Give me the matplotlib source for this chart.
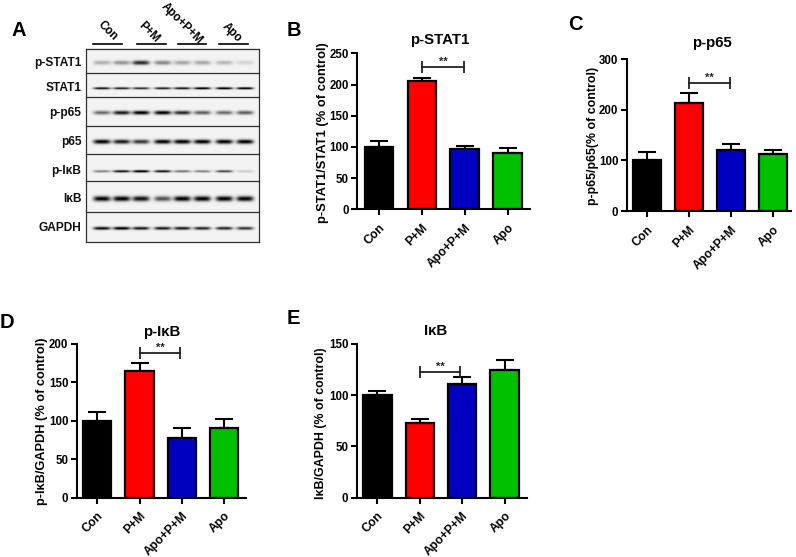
import numpy as np
import matplotlib
matplotlib.use('Agg')
import matplotlib.pyplot as plt

plt.rcParams['font.family'] = ['Liberation Sans', 'DejaVu Sans']
plt.rcParams['font.weight'] = 'bold'

W, H = 796, 557

groups = ['Con', 'P+M', 'Apo+P+M', 'Apo']
bar_colors = ['#000000', '#ff0000', '#0000c0', '#00c000']

stat1_vals = [100, 205, 97, 90]
stat1_top = [109, 211, 101, 98]
p65_vals = [100, 214, 121, 113]
p65_top = [117, 234, 133, 120]
pikb_vals = [100, 164, 78, 91]
pikb_top = [111, 175, 91, 102]
ikb_vals = [100, 73, 111, 124]
ikb_top = [104, 77, 118, 134]

# western blot: band strength per lane
blot_rows = ['p-STAT1', 'STAT1', 'p-p65', 'p65', 'p-IκB', 'IκB', 'GAPDH']
blot_bands = [
    [0.25, 0.35, 0.75, 0.40, 0.28, 0.28, 0.22, 0.12],
    [0.80, 0.75, 0.70, 0.75, 0.80, 0.90, 0.95, 0.90],
    [0.50, 0.80, 1.00, 0.90, 0.75, 0.55, 0.50, 0.55],
    [0.95, 0.80, 0.70, 0.90, 1.00, 1.00, 0.95, 1.00],
    [0.40, 0.80, 0.90, 0.80, 0.45, 0.40, 0.60, 0.15],
    [0.90, 1.00, 0.85, 0.60, 1.00, 0.95, 1.00, 1.00],
    [0.85, 0.90, 0.80, 0.80, 0.80, 0.75, 0.75, 0.70],
]
blot_sigma = [2.2, 1.2, 2.0, 2.2, 1.3, 2.6, 1.6]
blot_lane_x = [102, 121.7, 141, 162.7, 182.3, 202.3, 224.3, 245]
blot_row_y = [62.7, 88.3, 112.7, 141.7, 171.3, 198.7, 228.3]
blot_edges = [48.7, 73, 97, 125.7, 153.7, 181, 212, 242.3]
blot_left, blot_right = 86, 259.3
group_lines = [(93, 121.7), (137, 165.7), (177.7, 206), (219, 247.7)]
group_label_pos = [(108, 31), (149, 32.5), (182, 23.5), (232, 33)]


def px_axes(fig, left, right, top, bottom):
    return fig.add_axes([left / W, 1 - bottom / H, (right - left) / W, (bottom - top) / H])


def draw_blot(fig):
    ax = fig.add_axes([0, 0, 1, 1])
    ax.set_xlim(0, W)
    ax.set_ylim(H, 0)
    ax.axis('off')

    x0, x1 = int(blot_left), int(blot_right)
    y0, y1 = int(blot_edges[0]), int(blot_edges[-1])
    xx, yy = np.meshgrid(np.arange(x0, x1) + 0.5, np.arange(y0, y1) + 0.5)
    img = np.full(xx.shape, 0.95)
    for ri, strengths in enumerate(blot_bands):
        for lane, s in zip(blot_lane_x, strengths):
            shape = np.exp(-((xx - lane) / 8.5) ** 4) * np.exp(-((yy - blot_row_y[ri]) / blot_sigma[ri]) ** 2)
            img -= 0.95 * min(s * 1.1, 1.0) * shape
    ax.imshow(np.clip(img, 0, 1), cmap='gray', vmin=0, vmax=1, extent=(x0, x1, y1, y0),
              aspect='auto', interpolation='bilinear', zorder=1)
    ax.set_xlim(0, W)
    ax.set_ylim(H, 0)

    for y in blot_edges:
        ax.plot([blot_left, blot_right], [y, y], color='#303030', lw=0.9, zorder=2)
    for x in [blot_left, blot_right]:
        ax.plot([x, x], [blot_edges[0], blot_edges[-1]], color='#303030', lw=0.9, zorder=2)

    for name, y in zip(blot_rows, blot_row_y):
        ax.text(81.5, y, name, ha='right', va='center', fontsize=8.6, color='#111111')
    for (a, b), (lx, ly), g in zip(group_lines, group_label_pos, groups):
        ax.plot([a, b], [43.7, 43.7], color='k', lw=1.2)
        ax.text(lx, ly, g, rotation=-45, ha='center', va='center', fontsize=8.3, rotation_mode='anchor')

    for letter, x, y in [('A', 19, 30), ('B', 294, 30), ('C', 575, 25), ('D', 7, 323), ('E', 293, 319)]:
        ax.text(x, y, letter, ha='center', va='center', fontsize=14.5, color='k')
    return ax


def bar_panel(fig, vals, tops, title, ylabel, ymax, yticks, box, centers, bracket, title_xy, ylabel_pos):
    left, right, top, bottom = box
    ax = px_axes(fig, left, right, top, bottom)
    step = (centers[-1] - centers[0]) / 3
    ax.set_xlim((left - centers[0]) / step, (right - centers[0]) / step)
    ax.set_ylim(0, ymax)
    ax.patch.set_alpha(0)

    x = np.arange(len(groups))
    ax.bar(x, vals, width=0.67, color=bar_colors, edgecolor='k', linewidth=1.6, zorder=2)
    lower = np.zeros(len(vals))
    upper = np.array(tops) - np.array(vals)
    ax.errorbar(x, vals, yerr=[lower, upper], fmt='none', ecolor='k', elinewidth=1.5,
                capsize=6.5, capthick=1.5, zorder=1)

    b0, b1, by = bracket
    ax.plot([b0, b1], [by, by], color='#222222', lw=1.3, marker='|', ms=9, mew=1.3, zorder=3)
    ax.text((b0 + b1) / 2, by, '**', ha='center', va='bottom', fontsize=8, color='#222222')

    for s in ['top', 'right']:
        ax.spines[s].set_visible(False)
    for s in ['left', 'bottom']:
        ax.spines[s].set_linewidth(1.5)
    ax.set_xticks(x)
    ax.set_xticklabels(groups, rotation=45, ha='right', rotation_mode='anchor', fontsize=8.7)
    ax.set_yticks(yticks)
    ax.tick_params(axis='both', width=1.5, length=4, labelsize=8.3, pad=2)
    ax.tick_params(axis='x', pad=5, labelsize=8.7)

    fig.text(title_xy[0] / W, 1 - title_xy[1] / H, title, ha='center', va='center', fontsize=10.8)
    yl_x, yl_y, yl_size = ylabel_pos
    fig.text(yl_x / W, 1 - yl_y / H, ylabel, rotation=90, ha='center', va='center', fontsize=yl_size)
    return ax


fig = plt.figure(figsize=(W / 100, H / 100), dpi=100, facecolor='white')
draw_blot(fig)

bar_panel(fig, stat1_vals, stat1_top, 'p-STAT1', 'p-STAT1/STAT1 (% of control)', 250, range(0, 251, 50),
          (357.3, 530, 53.3, 209.3), [379, 421.7, 464.3, 507.7], (1, 1.98, 227.6), (440, 40), (322.7, 132.5, 9.4))
bar_panel(fig, p65_vals, p65_top, 'p-p65', 'p-p65/p65(% of control)', 300, range(0, 301, 100),
          (626.7, 791, 59.3, 211), [647.3, 689.7, 731, 772.7], (1, 1.98, 253), (712, 43), (592.7, 135.7, 8.9))
bar_panel(fig, pikb_vals, pikb_top, 'p-IκB', 'p-IκB/GAPDH (% of control)', 200, range(0, 201, 50),
          (76.7, 246, 343.7, 497.7), [97.3, 139.7, 181.7, 224], (1, 1.97, 187.5), (162, 332), (41.7, 421.7, 9.2))
bar_panel(fig, ikb_vals, ikb_top, 'IκB', 'IκB/GAPDH (% of control)', 150, range(0, 151, 50),
          (356.7, 526.7, 343.7, 497.7), [377.3, 419.7, 462.3, 504.7], (1, 1.95, 122.7), (436, 331), (320.7, 423, 8.9))

plt.savefig('out.png', dpi=100, facecolor='white')
plt.close()
